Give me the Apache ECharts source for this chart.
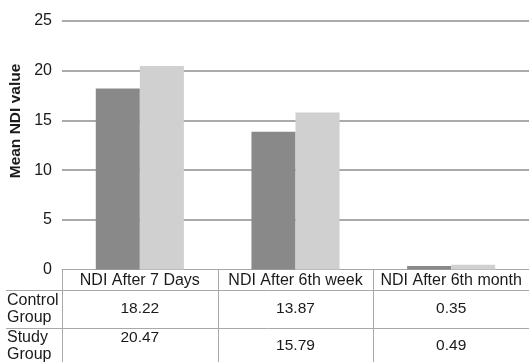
<!DOCTYPE html>
<html>
<head>
<meta charset="utf-8">
<script src="https://cdn.jsdelivr.net/npm/echarts@6/dist/echarts.min.js"></script>
<style>
html,body{margin:0;padding:0;background:#fff;}
#chart{width:529px;height:362px;}
</style>
</head>
<body>
<div id="chart"></div>
<script>
const categories = ['NDI After 7 Days', 'NDI After 6th week', 'NDI After 6th month'];
const controlValues = [18.22, 13.87, 0.35];
const studyValues = [20.47, 15.79, 0.49];
const yMin = 0, yMax = 25, yStep = 5;
const rowLabels = [['Control', 'Group'], ['Study', 'Group']];
const yTitle = 'Mean NDI value';

const FONT = '"Liberation Sans", Arial, sans-serif';
const TXT = '#1a1a1a';
const LINE = '#a8a8a8';

const chart = echarts.init(document.getElementById('chart'), null, {renderer: 'canvas'});
const option = {
  animation: false,
  grid: {left: 62, right: 0, top: 21, bottom: 92.5, containLabel: false},
  xAxis: {
    type: 'category',
    data: categories,
    axisLine: {show: true, lineStyle: {color: LINE, width: 1}},
    axisTick: {show: false},
    axisLabel: {show: false}
  },
  yAxis: {
    type: 'value',
    min: yMin, max: yMax, interval: yStep,
    axisLine: {show: false},
    axisTick: {show: false},
    axisLabel: {margin: 10, color: TXT, fontSize: 16, fontFamily: FONT},
    splitLine: {show: true, showMinLine: false, lineStyle: {color: '#8e8e8e', width: 1.6}}
  },
  series: [
    {name: 'Control Group', type: 'bar', data: controlValues, barWidth: '28.3%', barGap: '0%',
     itemStyle: {color: '#898989'}},
    {name: 'Study Group', type: 'bar', data: studyValues, barWidth: '28.3%', barGap: '0%',
     itemStyle: {color: '#d0d0d0'}}
  ]
};
chart.setOption(option);

// Build the data table under the axis from the axis' own scale
const c0 = chart.convertToPixel({xAxisIndex: 0}, categories[0]);
const c1 = chart.convertToPixel({xAxisIndex: 0}, categories[1]);
const band = c1 - c0;
const baseY = chart.convertToPixel({yAxisIndex: 0}, 0);
const gridLeft = c0 - band / 2;
const headerBottom = baseY + 20.5;
const row1Bottom = headerBottom + 38;
const bottom = 362;
const studyTextY = [338, 346, 346];

const g = [];
for (let i = 0; i < categories.length; i++) {
  const x = Math.round(gridLeft + band * i) + 0.5;
  g.push({type: 'line', shape: {x1: x, y1: baseY, x2: x, y2: bottom}, style: {stroke: LINE, lineWidth: 1}, silent: true});
}
[headerBottom, row1Bottom].forEach(y => {
  const yy = Math.round(y) + 0.5;
  g.push({type: 'line', shape: {x1: 6, y1: yy, x2: 529, y2: yy}, style: {stroke: LINE, lineWidth: 1}, silent: true});
});
categories.forEach((cat, i) => {
  const cx = chart.convertToPixel({xAxisIndex: 0}, cat);
  g.push({type: 'text', x: cx, y: (baseY + headerBottom) / 2 + 1, style: {text: cat, fill: TXT, font: '16px ' + FONT, align: 'center', verticalAlign: 'middle'}});
  g.push({type: 'text', x: cx, y: (headerBottom + row1Bottom) / 2, style: {text: controlValues[i].toFixed(2), fill: TXT, font: '15.5px ' + FONT, align: 'center', verticalAlign: 'middle'}});
  g.push({type: 'text', x: cx, y: studyTextY[i], style: {text: studyValues[i].toFixed(2), fill: TXT, font: '15.5px ' + FONT, align: 'center', verticalAlign: 'middle'}});
});
const rowCenters = [(headerBottom + row1Bottom) / 2, (row1Bottom + bottom) / 2 + 1];
rowLabels.forEach((lines, r) => {
  g.push({type: 'text', x: 7, y: rowCenters[r] - 8.5, style: {text: lines[0], fill: TXT, font: '16px ' + FONT, align: 'left', verticalAlign: 'middle'}});
  g.push({type: 'text', x: 7, y: rowCenters[r] + 8.5, style: {text: lines[1], fill: TXT, font: '16px ' + FONT, align: 'left', verticalAlign: 'middle'}});
});
g.push({type: 'text', x: 16, y: 121, rotation: Math.PI / 2, style: {text: yTitle, fill: TXT, font: 'bold 15.5px ' + FONT, align: 'center', verticalAlign: 'middle'}});

chart.setOption({graphic: {elements: g}});
</script>
</body>
</html>
